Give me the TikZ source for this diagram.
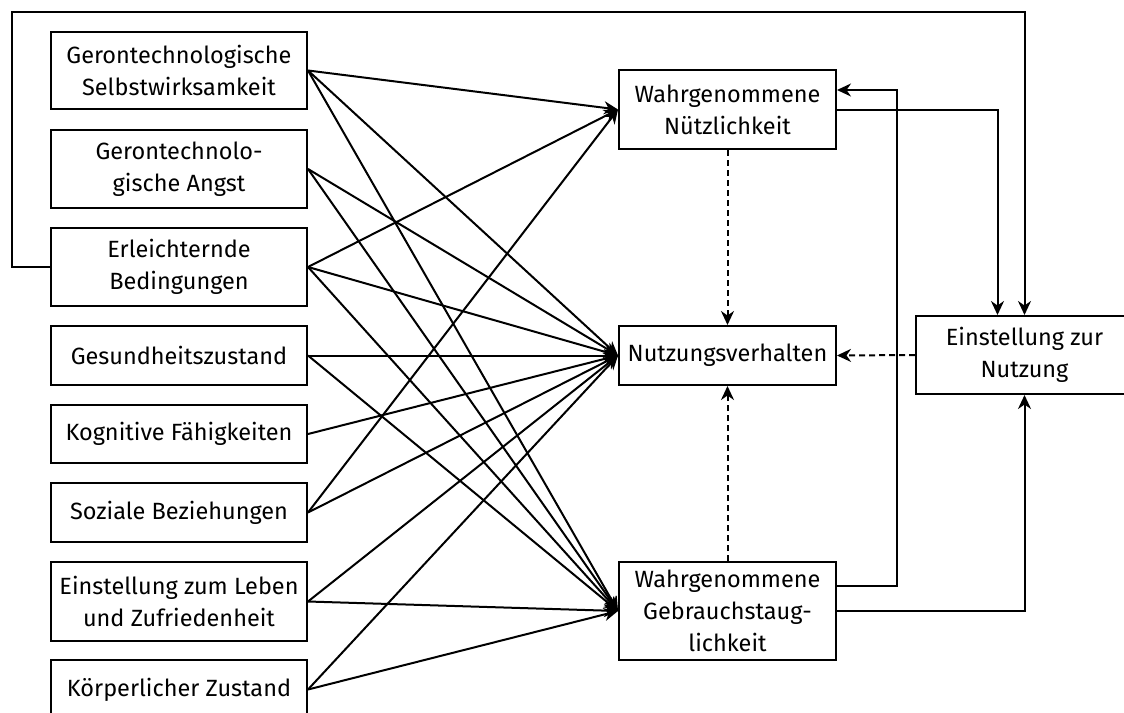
\documentclass[tikz,border=0pt]{standalone}
\usepackage{fontspec}
\setmainfont{Fira Sans}
\usetikzlibrary{arrows.meta}
\begin{document}
\begin{tikzpicture}[x=1pt,y=-1pt,
  box/.style={draw, line width=2pt, inner sep=0pt, align=center,
    font=\fontsize{23.5}{32}\selectfont},
  leftbox/.style={box, minimum width=256pt},
  midbox/.style={box, minimum width=217pt},
  link/.style={line width=2pt, -{Stealth[length=14pt,width=13pt,inset=4.5pt]}},
  dlink/.style={link, dash pattern=on 6pt off 4pt}]
\useasboundingbox (0,0) rectangle (1124,712);
\clip (0,0) rectangle (1124,712);
\fill[white] (0,0) rectangle (1124,712);

% factor column
\node[leftbox, minimum height=77pt] (b1) at (179,70.5) {Gerontechnologische\\Selbstwirksamkeit};
\node[leftbox, minimum height=78pt] (b2) at (179,169) {Gerontechnolo-\\gische Angst};
\node[leftbox, minimum height=78pt] (b3) at (179,267) {Erleichternde\\Bedingungen};
\node[leftbox, minimum height=59pt] (b4) at (179,355.5) {Gesundheitszustand};
\node[leftbox, minimum height=58pt] (b5) at (179,434) {Kognitive Fähigkeiten};
\node[leftbox, minimum height=59pt] (b6) at (179,512.5) {Soziale Beziehungen};
\node[leftbox, minimum height=79pt] (b7) at (179,601.5) {Einstellung zum Leben\\und Zufriedenheit};
\node[leftbox, minimum height=59pt] (b8) at (179,689.5) {Körperlicher Zustand};

% model constructs
\node[midbox, minimum height=79pt] (wn) at (727.5,109.5) {Wahrgenommene\\Nützlichkeit};
\node[midbox, minimum height=59pt] (nv) at (727.5,355.5) {Nutzungsverhalten};
\node[midbox, minimum height=98pt] (wg) at (727.5,611) {Wahrgenommene\\Gebrauchstaug-\\lichkeit};
\node[midbox, minimum height=78pt] (ez) at (1024.5,355) {Einstellung zur\\Nutzung};

% influences of the factors
\foreach \s in {b1,b3,b6} \draw[link] (\s.east) -- (wn.west);
\foreach \s in {b1,b2,b3,b4,b5,b6,b7,b8} \draw[link] (\s.east) -- (nv.west);
\foreach \s in {b1,b2,b3,b4,b7,b8} \draw[link] (\s.east) -- (wg.west);

% feedback loop of facilitating conditions
\coordinate (loop) at (12,12);
\draw[link] (b3.west) -| (loop) -| (ez.north);

% relations between the constructs
\draw[link] (wn.east) -| ([xshift=-27pt]ez.north);
\draw[link] ([yshift=25pt]wg.east) -- ++(60,0) |- ([yshift=19.5pt]wn.east);
\draw[link] (wg.east) -| (ez.south);
\draw[dlink] (wn.south) -- (nv.north);
\draw[dlink] (wg.north) -- (nv.south);
\draw[dlink] (ez.west) -- (nv.east);
\end{tikzpicture}
\end{document}
